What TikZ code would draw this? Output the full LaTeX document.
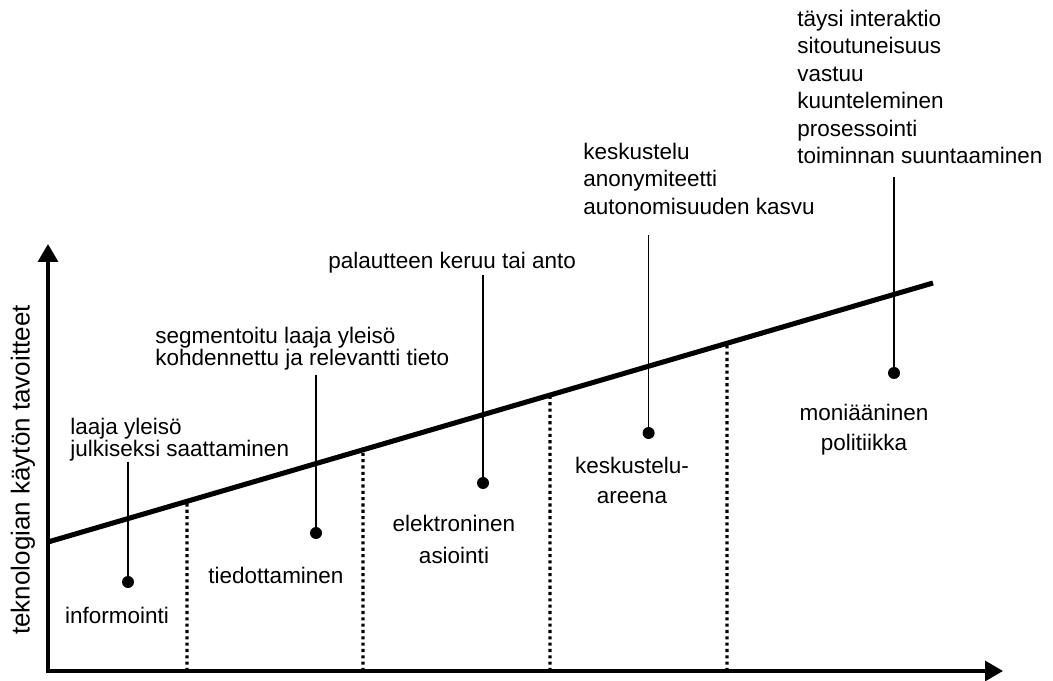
\documentclass[tikz,border=0pt]{standalone}
\usepackage{fontspec}
\setmainfont{Liberation Sans}
\usetikzlibrary{arrows.meta,calc}

\begin{document}
\begin{tikzpicture}[line join=miter, font=\fontsize{16}{19.5}\selectfont,
    axis/.style={line width=2.4pt, {Triangle[length=0.45cm,width=0.5cm]}-{Triangle[length=0.45cm,width=0.5cm]}},
    trend/.style={line width=3.6pt},
    divider/.style={line width=2.2pt, dash pattern=on 2.2pt off 2.3pt},
    stem/.style={line width=0.8pt},
    dot/.style={circle, fill, inner sep=0pt, minimum size=0.3cm},
    toplab/.style={anchor=north west, align=left, inner sep=0pt},
    boxlab/.style={anchor=north, align=center, inner sep=0pt}]
    \useasboundingbox (-1.2,-0.225) rectangle (25.125,16.775);

    % axes and rising line
    \coordinate (O) at (0,0);
    \coordinate (Y) at (0,10.675);
    \coordinate (X) at (23.875,0);
    \coordinate (L0) at (0,3.225);
    \coordinate (L1) at (22.125,9.7);

    % dotted borders between the stages
    \foreach \x in {3.475,7.875,12.55,16.975}
        \draw[divider] (\x,0) -- ($(L0)!{\x/22.125}!(L1)$);

    \draw[trend] (L0) -- (L1);
    \draw[axis] (Y) -- (O) -- (X);

    \node[rotate=90, font=\fontsize{18.5}{22}\selectfont] (ylab) at (-0.625,5.025) {teknologian käytön tavoitteet};

    % stage names
    \node[boxlab] (b1) at (1.725,1.6) {informointi};
    \node[boxlab] (b2) at (5.7,2.6) {tiedottaminen};
    \node[boxlab, font=\fontsize{16}{22.8}\selectfont] (b3) at (10.15,3.9) {elektroninen\\asiointi};
    \node[boxlab, font=\fontsize{16}{21.3}\selectfont] (b4) at (14.6,5.35) {keskustelu-\\areena};
    \node[boxlab, font=\fontsize{16}{21.3}\selectfont] (b5) at (20.4,6.675) {moniääninen\\politiikka};

    % goals above the line
    \node[toplab, font=\fontsize{16}{14.2}\selectfont] (l1) at (0.55,6.325) {laaja yleisö\\julkiseksi saattaminen};
    \node[toplab, font=\fontsize{16}{15.6}\selectfont] (l2) at (2.675,8.6) {segmentoitu laaja yleisö\\kohdennettu ja relevantti tieto};
    \node[toplab] (l3) at (7.0,10.475) {palautteen keruu tai anto};
    \node[toplab] (l4) at (13.375,13.2) {keskustelu\\anonymiteetti\\autonomisuuden kasvu};
    \node[toplab] (l5) at (18.725,16.525) {täysi interaktio\\sitoutuneisuus\\vastuu\\kuunteleminen\\prosessointi\\toiminnan suuntaaminen};

    % pins from the goals down to the stages
    \node[dot] (d1) at (2.0,2.225) {};
    \node[dot] (d2) at (6.7,3.45) {};
    \node[dot] (d3) at (10.875,4.7) {};
    \node[dot] (d4) at (15.015,5.95) {};
    \node[dot] (d5) at (21.15,7.45) {};
    \coordinate (t1) at (2.0,5.225);
    \coordinate (t2) at (6.7,7.4);
    \coordinate (t3) at (10.875,9.9);
    \coordinate (t4) at (15.015,10.9);
    \coordinate (t5) at (21.15,12.35);
    \foreach \i in {1,...,5}
        \draw[stem] (d\i) -- (t\i);
\end{tikzpicture}
\end{document}
